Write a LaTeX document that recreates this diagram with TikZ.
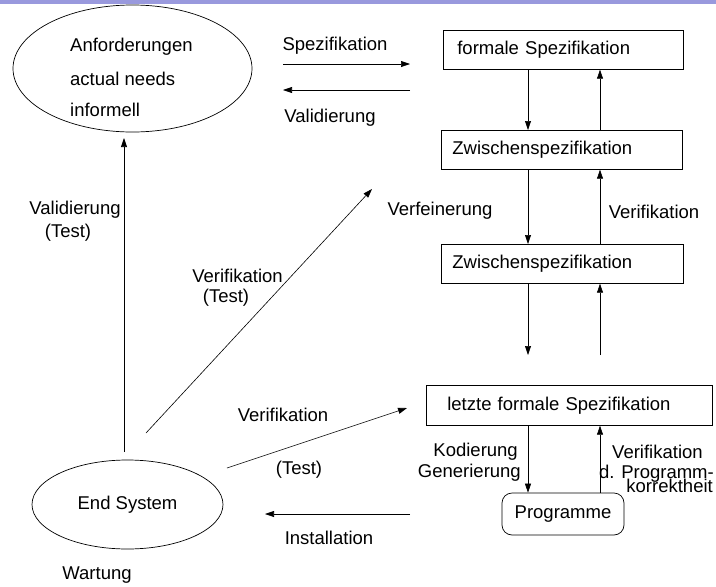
\documentclass[tikz,border=0pt]{standalone}
\usepackage{fontspec}
\setmainfont{Liberation Sans}
\usetikzlibrary{arrows.meta,shapes.geometric}
\definecolor{barblue}{RGB}{153,153,221}
\begin{document}
\begin{tikzpicture}[x=1pt,y=-1pt,
  every node/.style={font=\fontsize{18.5}{22}\selectfont, inner sep=0pt},
  box/.style={draw, line width=0.7pt, anchor=north west, align=left, minimum height=39pt},
  oval/.style={draw, ellipse, line width=0.7pt},
  arr/.style={draw, line width=0.6pt, -{Triangle[length=9pt,width=6pt]}},
  plain/.style={draw, line width=0.6pt}
]
\path[use as bounding box] (0,0) rectangle (716,587);
\fill[barblue] (0,0) rectangle (716,4);

% ellipses
\node[oval, minimum width=239pt, minimum height=127pt] (req) at (132.5,68.5) {};
\node[anchor=west, align=left] (reqt1) at (70,47) {Anforderungen};
\node[anchor=west, align=left] (reqt2) at (70,79) {actual needs};
\node[anchor=west, align=left] (reqt3) at (70,110) {informell};
\node[oval, minimum width=191pt, minimum height=89pt] (endsys) at (127.5,504.5) {End System};
\node (wart) at (97,575) {Wartung};

% boxes
\node[box, minimum width=240pt, text width=212pt, inner xsep=14pt] (fs) at (443,30) {formale Spezifikation};
\node[box, minimum width=241pt, text width=219pt, inner xsep=11pt] (z1) at (441,130) {Zwischenspezifikation};
\node[box, minimum width=242pt, text width=220pt, inner xsep=11pt] (z2) at (441,244) {Zwischenspezifikation};
\node[box, minimum width=286pt, minimum height=40pt, text width=244pt, inner xsep=21pt] (lf) at (426,385) {letzte formale Spezifikation};
\node[draw, line width=0.7pt, rounded corners=10pt, minimum width=122pt, minimum height=42pt] (prog) at (563,514) {Programme};

% vertical arrows on the right
\coordinate (xl) at (528,0);
\coordinate (xr) at (600,0);
\coordinate (dl) at (528,355);
\coordinate (ur) at (600,355);
\draw[arr] (fs.south -| xl) -- (z1.north -| xl);
\draw[arr] (z1.north -| xr) -- (fs.south -| xr);
\draw[arr] (z1.south -| xl) -- (z2.north -| xl);
\draw[arr] (z2.north -| xr) -- (z1.south -| xr);
\draw[arr] (z2.south -| xl) -- (dl);
\draw[arr] (ur) -- (z2.south -| xr);
\draw[arr] (lf.south -| xl) -- (prog.north -| xl);
\draw[arr] (prog.north -| xr) -- (lf.south -| xr);

% left arrows
\coordinate (s1) at (283,64);
\coordinate (s2) at (410,64);
\coordinate (v1) at (410,90);
\coordinate (v2) at (283,90);
\coordinate (vt1) at (124,452);
\coordinate (vt2) at (124,138);
\coordinate (d1) at (146,433);
\coordinate (d2) at (372,189);
\coordinate (e1) at (227,468);
\coordinate (e2) at (407,408);
\coordinate (i1) at (410,514);
\coordinate (i2) at (265,514);
\draw[arr] (s1) -- (s2);
\draw[arr] (v1) -- (v2);
\draw[arr] (vt1) -- (vt2);
\draw[arr] (d1) -- (d2);
\draw[arr] (e1) -- (e2);
\draw[arr] (i1) -- (i2);

% labels
\node (lspez) at (335,46) {Spezifikation};
\node (lval) at (330,118) {Validierung};
\node (lverf) at (440,211) {Verfeinerung};
\node (lveri) at (654,212) {Verifikation};
\node (lvd1) at (237.5,276) {Verifikation};
\node (lvd2) at (226,298) {(Test)};
\node (lvt1) at (75,210) {Validierung};
\node (lvt2) at (68,233) {(Test)};
\node (lv21) at (283,415) {Verifikation};
\node (lv22) at (299,470) {(Test)};
\node (linst) at (329,538) {Installation};
\node[anchor=east] (lkod) at (518,452) {Kodierung};
\node[anchor=east] (lgen) at (521,473) {Generierung};
\node[anchor=west] (lvp1) at (612,452) {Verifikation};
\node[anchor=east] (lvp2) at (714,474) {d. Programm-};
\node[anchor=east] (lvp3) at (713,486) {korrektheit};
\end{tikzpicture}
\end{document}
